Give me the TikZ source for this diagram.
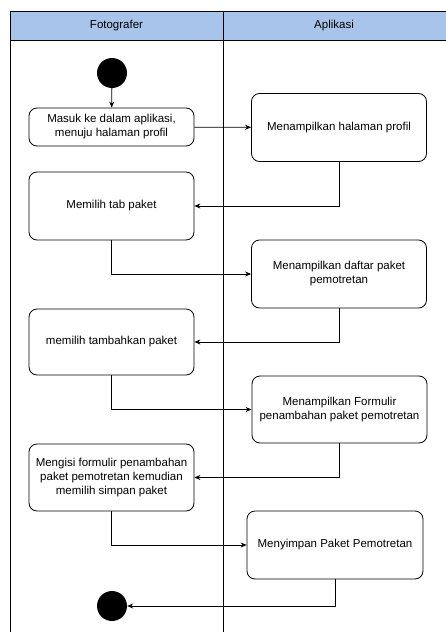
\documentclass[tikz,border=0pt]{standalone}
\usepackage{fontspec}
\setmainfont{Liberation Sans}
\usetikzlibrary{arrows.meta}
\definecolor{lanehead}{HTML}{A9C4EB}
\tikzset{
  x=1pt, y=-1pt,
  act/.style={draw, rounded corners=8pt, line width=0.8pt, align=center,
    font=\fontsize{11.5}{14}\selectfont, inner sep=0pt},
  dot/.style={circle, fill=black, minimum size=30pt, inner sep=0pt},
  flow/.style={draw, line width=0.8pt, -{Stealth[length=6pt,width=5pt]}},
  lane/.style={line width=0.9pt},
  headtxt/.style={font=\fontsize{11.5}{14}\selectfont}
}
\begin{document}
\begin{tikzpicture}
\useasboundingbox (0,0) rectangle (446,632);
% swimlane headers and borders
\fill[lanehead] (10.5,11.5) rectangle (446,40.5);
\draw[lane] (446,11.5) -- (10.5,11.5) -- (10.5,632);
\draw[lane] (10.5,40.5) -- (446,40.5);
\draw[lane] (223,11.5) -- (223,632);
\node[headtxt] (h1) at (116.5,26) {Fotografer};
\node[headtxt] (h2) at (334,26) {Aplikasi};
% activities
\node[dot] (start) at (112,73) {};
\node[act, minimum width=165pt, minimum height=38pt] (a1) at (111.5,127) {Masuk ke dalam aplikasi,\\menuju halaman profil};
\node[act, minimum width=175pt, minimum height=68pt] (b1) at (339,127.5) {Menampilkan halaman profil};
\node[act, minimum width=165pt, minimum height=68pt] (a2) at (111.5,206) {Memilih tab paket};
\node[act, minimum width=175pt, minimum height=68pt] (b2) at (339,274) {Menampilkan daftar paket\\pemotretan};
\node[act, minimum width=165pt, minimum height=66pt] (a3) at (111.5,342) {memilih tambahkan paket};
\node[act, minimum width=175pt, minimum height=67pt] (b3) at (339.5,409.5) {Menampilkan Formulir\\penambahan paket pemotretan};
\node[act, minimum width=165pt, minimum height=67pt] (a4) at (111.5,477.5) {Mengisi formulir penambahan\\paket pemotretan kemudian\\memilih simpan paket};
\node[act, minimum width=176pt, minimum height=68pt] (b4) at (335,545) {Menyimpan Paket Pemotretan};
\node[dot] (stop) at (112,606) {};
% control flow
\draw[flow] (start) -- (a1);
\draw[flow] (a1) -- (b1);
\draw[flow] (b1.south) |- (a2.east);
\draw[flow] (a2.south) |- (b2.west);
\draw[flow] (b2.south) |- (a3.east);
\draw[flow] (a3.south) |- (b3.west);
\draw[flow] (b3.south) |- (a4.east);
\draw[flow] (a4.south) |- (b4.west);
\draw[flow] (b4.south) |- (stop.east);
\end{tikzpicture}
\end{document}
